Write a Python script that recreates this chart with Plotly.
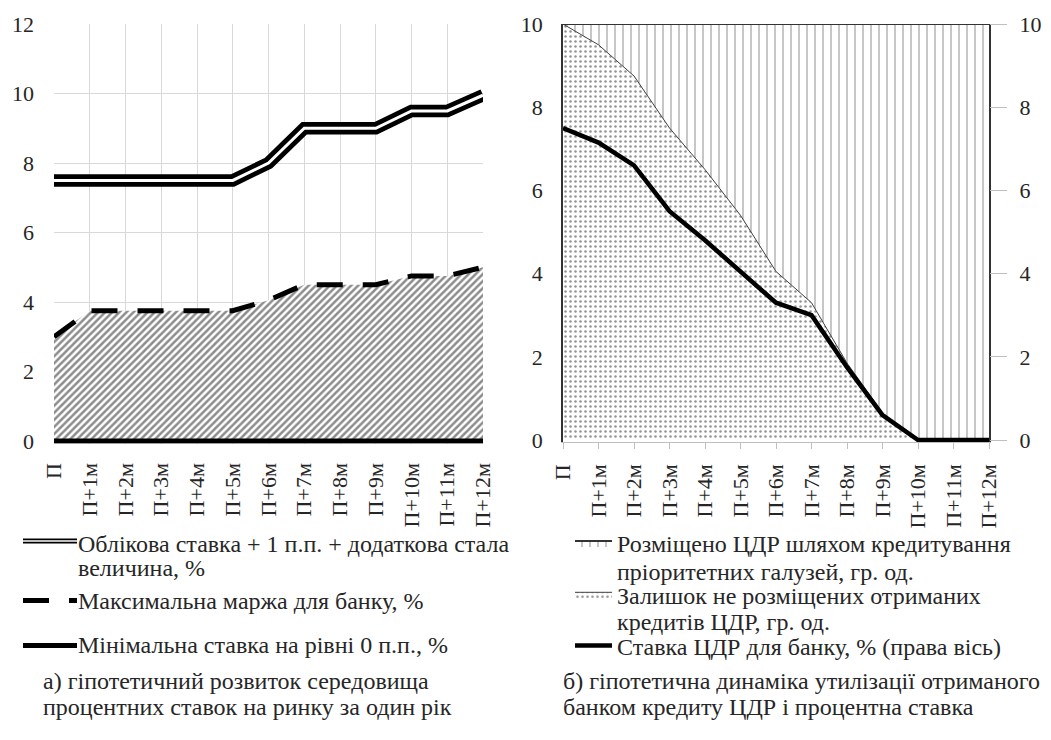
import plotly.graph_objects as go

# ---------------- data ----------------
categories = ["П", "П+1м", "П+2м", "П+3м", "П+4м", "П+5м", "П+6м",
              "П+7м", "П+8м", "П+9м", "П+10м", "П+11м", "П+12м"]

# left chart (a)
policy_rate = [7.5, 7.5, 7.5, 7.5, 7.5, 7.5, 8.0, 9.0, 9.0, 9.0, 9.5, 9.5, 9.95]
max_margin = [3.0, 3.75, 3.75, 3.75, 3.75, 3.75, 4.05, 4.5, 4.5, 4.5, 4.75, 4.75, 5.0]
min_rate = [0, 0, 0, 0, 0, 0, 0, 0, 0, 0, 0, 0, 0]

# right chart (б)
remaining = [10, 9.5, 8.75, 7.5, 6.5, 5.4, 4.05, 3.3, 1.85, 0.65, 0, 0, 0]
placed = [0, 0.5, 1.25, 2.5, 3.5, 4.6, 5.95, 6.7, 8.15, 9.35, 10, 10, 10]
cdr_rate = [7.5, 7.15, 6.6, 5.5, 4.8, 4.05, 3.3, 3.0, 1.75, 0.6, 0, 0, 0]

left_yticks = [0, 2, 4, 6, 8, 10, 12]
right_yticks = [0, 2, 4, 6, 8, 10]

name_policy = "Облікова ставка + 1 п.п. + додаткова стала"
name_policy2 = "величина, %"
name_margin = "Максимальна маржа для банку, %"
name_min = "Мінімальна ставка на рівні 0 п.п., %"
name_placed = "Розміщено ЦДР шляхом кредитування"
name_placed2 = "пріоритетних галузей, гр. од."
name_remaining = "Залишок не розміщених отриманих"
name_remaining2 = "кредитів ЦДР, гр. од."
name_rate = "Ставка ЦДР для банку, % (права вісь)"
caption_a = ["а) гіпотетичний розвиток середовища",
             "процентних ставок на ринку за один рік"]
caption_b = ["б) гіпотетична динаміка утилізації отриманого",
             "банком кредиту ЦДР і процентна ставка"]

# ---------------- geometry helpers ----------------
OFF = 8                      # page body margin of the html page
W, H = 1051 - OFF, 740 - OFF
FONT = "Liberation Serif"
TXT = "#262626"
FS = 24        # legend / caption text
FS_X = 22      # category labels
FS_Y = 22      # value labels


def px(x):
    return (x - OFF) / W


def py(y):
    return 1 - (y - OFF) / H


fig = go.Figure()

# ---------------- left chart ----------------
fig.add_trace(go.Scatter(
    x=categories, y=max_margin, name=name_margin, mode="lines",
    fill="tozeroy", fillcolor="white",
    fillpattern=dict(shape="/", size=5, solidity=0.5, fgcolor="#1a1a1a", bgcolor="white"),
    line=dict(color="black", width=5, dash="26px,20px"),
    xaxis="x", yaxis="y", showlegend=False))
fig.add_trace(go.Scatter(
    x=categories, y=policy_rate, name=name_policy, mode="lines",
    line=dict(color="black", width=12.5), xaxis="x", yaxis="y", showlegend=False))
fig.add_trace(go.Scatter(
    x=categories, y=policy_rate, name=name_policy, mode="lines",
    line=dict(color="white", width=3), xaxis="x", yaxis="y", showlegend=False,
    hoverinfo="skip"))
fig.add_trace(go.Scatter(
    x=categories, y=min_rate, name=name_min, mode="lines",
    line=dict(color="black", width=5), xaxis="x", yaxis="y", showlegend=False))

# ---------------- right chart ----------------
fig.add_trace(go.Scatter(
    x=categories, y=remaining, name=name_remaining, mode="lines",
    stackgroup="s", fillcolor="white",
    fillpattern=dict(shape=".", size=5, solidity=0.2, fgcolor="#262626", bgcolor="white"),
    line=dict(color="#404040", width=1),
    xaxis="x2", yaxis="y2", legendgroup="g2", legendrank=2))
fig.add_trace(go.Scatter(
    x=categories, y=placed, name=name_placed, mode="lines",
    stackgroup="s", fillcolor="white",
    fillpattern=dict(shape="|", size=8, solidity=0.14, fgcolor="#333333", bgcolor="white"),
    line=dict(color="#333333", width=2),
    xaxis="x2", yaxis="y2", legendgroup="g1", legendrank=1))
fig.add_trace(go.Scatter(
    x=categories, y=cdr_rate, name=name_rate, mode="lines",
    line=dict(color="black", width=4.5),
    xaxis="x2", yaxis="y3", legendgroup="g3", legendrank=3))

# ---------------- axes ----------------
xfont = dict(family=FONT, size=FS_X, color=TXT)
yfont = dict(family=FONT, size=FS_Y, color=TXT)
GRID = "#d9d9d9"

# left: 0 at y=441, 12 at y=24 -> 34.75 px/unit
l_low = -0.08
fig.update_layout(
    xaxis=dict(domain=[px(54), px(483)], type="category", range=[0, 12],
               showgrid=True, gridcolor=GRID, gridwidth=1, tickangle=-90,
               ticks="", tickfont=xfont, ticklabelstandoff=14,
               zeroline=False, showline=False, anchor="y", automargin=False),
    yaxis=dict(domain=[py(441 - l_low * 34.75), py(24)], range=[l_low, 12],
               tickvals=left_yticks, showgrid=True, gridcolor=GRID, gridwidth=1,
               ticks="", tickfont=yfont, ticklabelstandoff=19,
               zeroline=False, showline=False, anchor="x", automargin=False),
)

# right: 0 at y=440, 10 at y=24 -> 41.6 px/unit
r_low = -0.06
r_dom = [py(440 - r_low * 41.6), py(24)]
fig.update_layout(
    xaxis2=dict(domain=[px(563), px(989)], type="category", range=[0, 12],
                showgrid=False, tickangle=-90, ticks="outside", ticklen=6,
                tickcolor="#bfbfbf", showline=True, linecolor="#bfbfbf",
                tickfont=xfont, ticklabelstandoff=6, zeroline=False,
                anchor="y2", automargin=False),
    yaxis2=dict(domain=r_dom, range=[r_low, 10], tickvals=right_yticks,
                showgrid=False, ticks="", tickfont=yfont, ticklabelstandoff=14,
                zeroline=False, showline=True, linecolor="#333333", linewidth=1.5,
                mirror=True, anchor="x2", automargin=False),
    yaxis3=dict(domain=r_dom, range=[r_low, 10], tickvals=right_yticks,
                overlaying="y2", side="right", anchor="x2", showgrid=False,
                ticks="outside", ticklen=17, tickcolor="#bfbfbf",
                tickfont=yfont, ticklabelstandoff=8, zeroline=False,
                showline=False, automargin=False),
)

# ---------------- legends ----------------
fig.update_layout(
    showlegend=True,
    legend=dict(x=px(570), xanchor="left", y=py(521), yanchor="top",
                font=dict(family=FONT, size=FS, color=TXT), itemwidth=37,
                traceorder="grouped", tracegroupgap=17, bgcolor="rgba(0,0,0,0)",
                borderwidth=0),
)

annotations = []


def add_text(x, y, text):
    annotations.append(dict(x=px(x), y=py(y), xref="paper", yref="paper",
                            xanchor="left", yanchor="middle", showarrow=False,
                            text=text, font=dict(family=FONT, size=FS, color=TXT)))


add_text(76, 544, name_policy)
add_text(76, 568, name_policy2)
add_text(76, 601, name_margin)
add_text(76, 645, name_min)
add_text(41, 681, caption_a[0])
add_text(41, 707, caption_a[1])
add_text(615, 572, name_placed2)
add_text(615, 622, name_remaining2)
add_text(561, 681, caption_b[0])
add_text(561, 707, caption_b[1])

shapes = [
    dict(type="line", xref="paper", yref="paper", x0=px(23), x1=px(77), y0=py(541), y1=py(541),
         line=dict(color="black", width=5)),
    dict(type="line", xref="paper", yref="paper", x0=px(23), x1=px(77), y0=py(541), y1=py(541),
         line=dict(color="white", width=1.5)),
    dict(type="line", xref="paper", yref="paper", x0=px(23), x1=px(77), y0=py(600.5), y1=py(600.5),
         line=dict(color="black", width=5, dash="26px,20px")),
    dict(type="line", xref="paper", yref="paper", x0=px(23), x1=px(77), y0=py(645.5), y1=py(645.5),
         line=dict(color="black", width=5)),
]

fig.update_layout(
    width=W, height=H, autosize=False,
    margin=dict(l=0, r=0, t=0, b=0, pad=0, autoexpand=False),
    paper_bgcolor="white", plot_bgcolor="white",
    font=dict(family=FONT, size=FS, color=TXT),
    annotations=annotations, shapes=shapes,
)

fig.write_html("out.html")
